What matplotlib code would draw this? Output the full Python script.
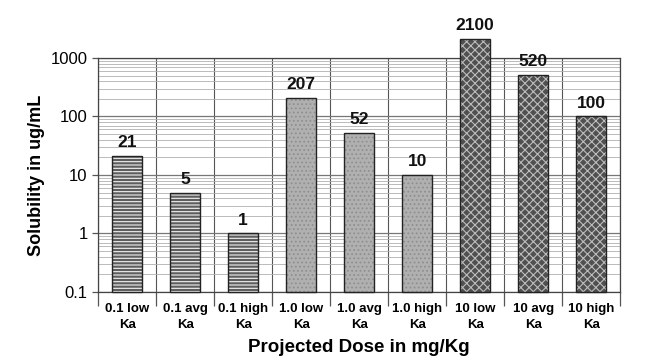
import matplotlib.pyplot as plt
import numpy as np
from matplotlib.ticker import FixedLocator, LogLocator, NullFormatter

plt.rcParams['font.family'] = ['Liberation Sans', 'DejaVu Sans']
plt.rcParams['hatch.linewidth'] = 0.8

categories = ['0.1 low\nKa', '0.1 avg\nKa', '0.1 high\nKa',
              '1.0 low\nKa', '1.0 avg\nKa', '1.0 high\nKa',
              '10 low\nKa', '10 avg\nKa', '10 high\nKa']
values = [21, 5, 1, 207, 52, 10, 2100, 520, 100]
value_labels = ['21', '5', '1', '207', '52', '10', '2100', '520', '100']

# one style per dose group
group_style = [
    dict(facecolor='#5e5e5e', hatch='-----', edgecolor='#f2f2f2'),
    dict(facecolor='#b0b0b0', hatch='....', edgecolor='#8f8f8f'),
    dict(facecolor='#505050', hatch='xxxx', edgecolor='#bdbdbd'),
]

fig = plt.figure(figsize=(6.5, 3.6), dpi=100)
ax = fig.add_axes([0.151, 0.189, 0.803, 0.65])

x = np.arange(len(values))
base = 0.1
for i, v in enumerate(values):
    st = group_style[i // 3]
    b = ax.bar(x[i], v - base, width=0.52, bottom=base, facecolor=st['facecolor'],
               hatch=st['hatch'], edgecolor=st['edgecolor'], linewidth=0, zorder=3)
    b[0].set_clip_on(False)
    ax.bar(x[i], v - base, width=0.52, bottom=base, facecolor='none', edgecolor='#222222',
           linewidth=1.0, zorder=4, clip_on=False)
    ax.text(x[i], v * 1.25, value_labels[i], ha='center', va='bottom',
            fontsize=12.5, fontweight='bold', color='#111111')

ax.set_yscale('log')
ax.set_ylim(0.1, 1000)
ax.set_xlim(-0.5, len(values) - 0.5)
ax.set_yticks([0.1, 1, 10, 100, 1000])
ax.set_yticklabels(['0.1', '1', '10', '100', '1000'], fontsize=12)
ax.yaxis.set_minor_locator(LogLocator(base=10, subs=np.arange(2, 10)))
ax.yaxis.set_minor_formatter(NullFormatter())

ax.set_xticks(x)
ax.set_xticklabels(categories, fontsize=9.5, fontweight='bold', linespacing=1.45)
ax.tick_params(axis='x', length=0, pad=8)
ax.xaxis.set_minor_locator(FixedLocator(np.arange(-0.5, len(values), 1)))
ax.tick_params(axis='x', which='minor', length=10, width=0.9, color='#555555')
ax.tick_params(axis='y', which='major', length=4, width=0.9, color='#555555')
ax.tick_params(axis='y', which='minor', length=0)

ax.grid(True, axis='y', which='major', color='#777777', linewidth=0.9, zorder=0)
ax.grid(True, axis='y', which='minor', color='#b0b0b0', linewidth=0.6, zorder=0)
ax.grid(True, axis='x', which='minor', color='#555555', linewidth=0.8, zorder=0)
for s in ax.spines.values():
    s.set_color('#444444')
    s.set_linewidth(0.9)

ax.set_ylabel('Solubility in ug/mL', fontsize=13, fontweight='bold')
ax.set_xlabel('Projected Dose in mg/Kg', fontsize=13.5, fontweight='bold', labelpad=6)

fig.savefig('out.png', dpi=100)
